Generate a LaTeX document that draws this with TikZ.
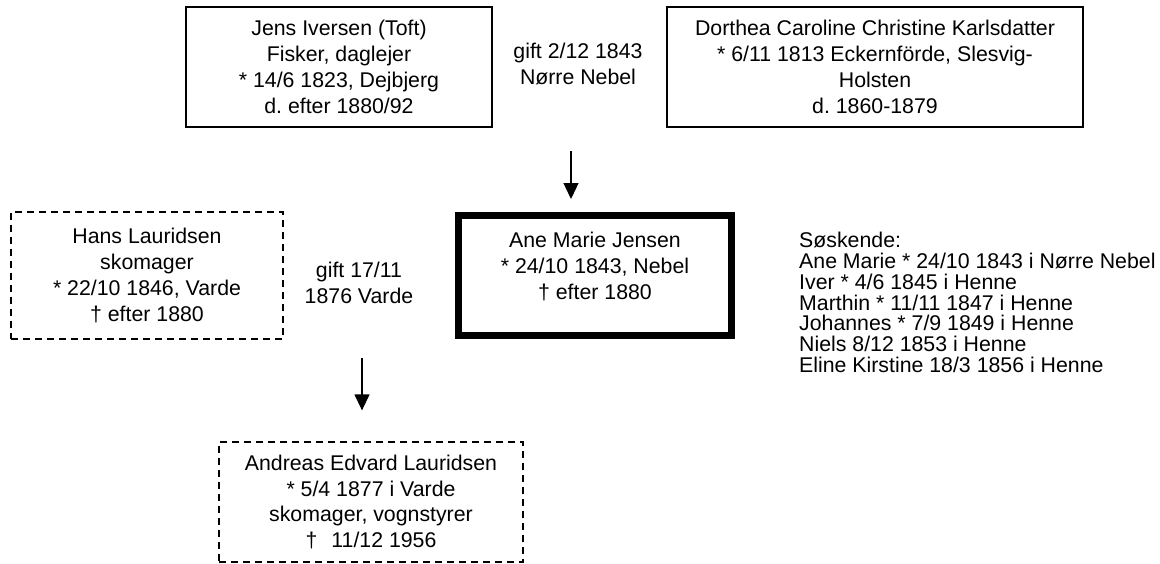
\documentclass[tikz,border=0pt]{standalone}
\usepackage{fontspec}
\setmainfont{Liberation Sans}
\usepackage{tikz}
\usetikzlibrary{arrows.meta}
\usetikzlibrary{calc}
\frenchspacing

\begin{document}
\begin{tikzpicture}[x=1pt,y=-1pt,>={Triangle[width=15pt,length=16pt]},
  person/.style={rectangle,draw,line width=1.3pt,align=center,inner sep=0pt,font=\fontsize{21.3}{25.8}\selectfont},
  later/.style={person,dash pattern=on 7pt off 5pt},
  note/.style={align=center,inner sep=0pt,font=\fontsize{21.3}{26}\selectfont}]
\useasboundingbox (0,0) rectangle (1160,563);
\node [person,minimum width=306pt,minimum height=120pt](jens) at (339,67) {Jens Iversen (Toft)\\Fisker, daglejer\\{*} 14/6 1823, Dejbjerg\\d. efter 1880/92};
\node [person,minimum width=416pt,minimum height=120pt](dorthea) at (875,67) {Dorthea Caroline Christine Karlsdatter\\{*} 6/11 1813 Eckernförde, Slesvig-\\Holsten\\d. 1860-1879};
\node [note](gift1) at (578,64) {gift 2/12 1843\\Nørre Nebel};
\node [person,line width=7pt,minimum width=273pt,minimum height=120pt,text depth=19pt](ane) at (595,275.5) {Ane Marie Jensen\\{*} 24/10 1843, Nebel\\† efter 1880};
\node [later,minimum width=272pt,minimum height=127pt](hans) at (147,275.5) {Hans Lauridsen\\skomager\\{*} 22/10 1846, Varde\\† efter 1880};
\node [note](gift2) at (359,283) {gift 17/11\\1876 Varde};
\node [later,minimum width=304pt,minimum height=120pt](andreas) at (371,502) {Andreas Edvard Lauridsen\\{*} 5/4 1877 i Varde\\skomager, vognstyrer\\†\hspace{14pt}11/12 1956};
\node [align=left,inner sep=0pt,anchor=north west,font=\fontsize{21.3}{20.8}\selectfont](sosk) at (799,232) {Søskende:\\Ane Marie {*} 24/10 1843 i Nørre Nebel\\Iver {*} 4/6 1845 i Henne\\Marthin {*} 11/11 1847 i Henne\\Johannes {*} 7/9 1849 i Henne\\Niels 8/12 1853 i Henne\\Eline Kirstine 18/3 1856 i Henne};
\coordinate (top1) at (571,151);
\coordinate (top2) at (362,358);
\draw [->,line width=1.3pt,shorten >=13pt] (top1) -- (top1 |- ane.north);
\draw [->,line width=1.3pt,shorten >=31pt] (top2) -- (top2 |- andreas.north);
\end{tikzpicture}
\end{document}
